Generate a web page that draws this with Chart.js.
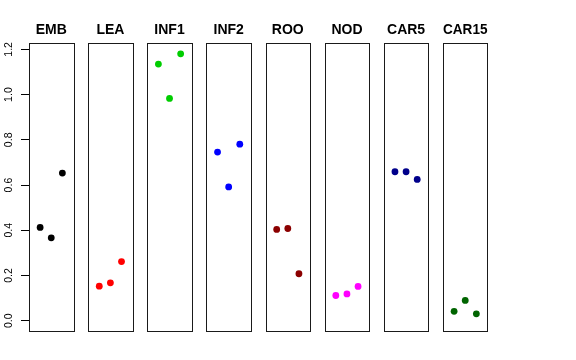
<!DOCTYPE html>
<html>
<head>
<meta charset="utf-8">
<script src="https://cdn.jsdelivr.net/npm/chart.js@4/dist/chart.umd.min.js"></script>
<style>
  html, body { margin: 0; padding: 0; background: #ffffff; }
  #wrap { position: relative; width: 576px; height: 360px; background: #ffffff; overflow: hidden; }
  #wrap canvas { position: absolute; left: 0; top: 0; }
</style>
</head>
<body>
<div id="wrap"></div>
<script>
// ---- data ----
const categories = ['EMB', 'LEA', 'INF1', 'INF2', 'ROO', 'NOD', 'CAR5', 'CAR15'];
const replicates = [1, 2, 3];
const embValues   = [0.413, 0.367, 0.653];
const leaValues   = [0.153, 0.168, 0.262];
const inf1Values  = [1.135, 0.983, 1.180];
const inf2Values  = [0.746, 0.592, 0.781];
const rooValues   = [0.404, 0.408, 0.208];
const nodValues   = [0.112, 0.119, 0.152];
const car5Values  = [0.659, 0.659, 0.625];
const car15Values = [0.042, 0.090, 0.031];
const yTickValues = [0, 0.2, 0.4, 0.6, 0.8, 1.0, 1.2];
const seriesColors = ['#000000', '#FF0000', '#00CD00', '#0000FF', '#8B0000', '#FF00FF', '#00008B', '#006400'];

const allValues = [embValues, leaValues, inf1Values, inf2Values, rooValues, nodValues, car5Values, car15Values];

// ---- layout ----
const W = 576, H = 360;
const PANEL_LEFT0 = 29, PANEL_PITCH = 59.14, PANEL_W = 44.5;
const PANEL_BOTTOM_PAD = 29;
const Y_MIN = -0.045, Y_MAX = 1.228;
const FONT = "'Liberation Sans', Arial, Helvetica, sans-serif";

const boxPlugin = {
  id: 'panelBox',
  afterDraw(chart) {
    const a = chart.chartArea;
    const ctx = chart.ctx;
    ctx.save();
    ctx.strokeStyle = '#1a1a1a';
    ctx.lineWidth = 1;
    const l = Math.round(a.left), t = Math.round(a.top);
    const r = Math.round(a.right), b = Math.round(a.bottom);
    ctx.strokeRect(l + 0.5, t + 0.5, r - l, b - t);
    ctx.restore();
  }
};

const wrap = document.getElementById('wrap');

categories.forEach((cat, i) => {
  const cv = document.createElement('canvas');
  cv.width = W; cv.height = H;
  cv.style.width = W + 'px'; cv.style.height = H + 'px';
  wrap.appendChild(cv);

  const left = PANEL_LEFT0 + PANEL_PITCH * i;
  const right = left + PANEL_W;
  const showAxis = i === 0;

  const yScale = {
    type: 'linear',
    min: Y_MIN,
    max: Y_MAX,
    display: showAxis
  };
  if (showAxis) {
    Object.assign(yScale, {
      afterBuildTicks: (s) => { s.ticks = yTickValues.map(v => ({ value: v })); },
      afterFit: (s) => { s.width = PANEL_LEFT0; },
      border: { display: true, color: '#000000', width: 1 },
      grid: {
        display: true,
        drawOnChartArea: false,
        drawTicks: true,
        tickLength: 8,
        color: '#000000',
        lineWidth: 1
      },
      ticks: {
        autoSkip: false,
        minRotation: 90,
        maxRotation: 90,
        crossAlign: 'center',
        padding: 4.5,
        color: '#000000',
        font: { family: FONT, size: 10.5 },
        callback: (v) => Number(v).toFixed(1)
      }
    });
  }

  new Chart(cv.getContext('2d'), {
    type: 'scatter',
    data: {
      datasets: [{
        label: cat,
        data: replicates.map((r, k) => ({ x: r, y: allValues[i][k] })),
        backgroundColor: seriesColors[i],
        borderColor: seriesColors[i],
        pointRadius: 3.4,
        pointBorderWidth: 0,
        pointHoverRadius: 3.4
      }]
    },
    options: {
      responsive: false,
      animation: false,
      devicePixelRatio: 1,
      events: [],
      layout: {
        padding: {
          left: showAxis ? 0 : left,
          right: W - right,
          top: 0,
          bottom: PANEL_BOTTOM_PAD
        }
      },
      plugins: {
        legend: { display: false },
        tooltip: { enabled: false },
        title: {
          display: true,
          text: cat,
          fullSize: false,
          color: '#000000',
          font: { family: FONT, size: 14, weight: 'bold', lineHeight: 1.2 },
          padding: { top: 21.6, bottom: 4.6 }
        }
      },
      scales: {
        x: {
          type: 'linear',
          min: 0,
          max: 4,
          display: false
        },
        y: yScale
      }
    },
    plugins: [boxPlugin]
  });
});
</script>
</body>
</html>
